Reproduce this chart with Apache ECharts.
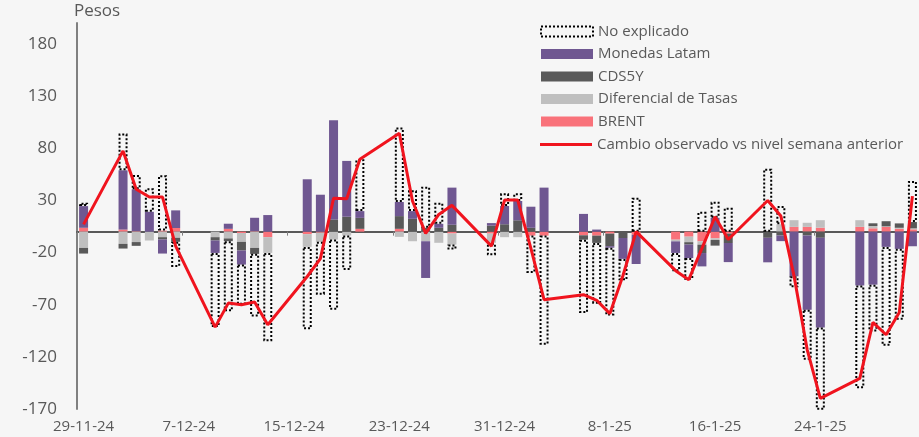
<!DOCTYPE html>
<html>
<head>
<meta charset="utf-8">
<script src="https://cdn.jsdelivr.net/npm/echarts@6/dist/echarts.min.js"></script>
<style>
html,body{margin:0;padding:0;background:#f6f6f6;}
#chart{width:919px;height:437px;}
</style>
</head>
<body>
<div id="chart"></div>
<script>
// All calendar days on the category axis
const categories = [
  '29-11-24','30-11-24',
  '1-12-24','2-12-24','3-12-24','4-12-24','5-12-24','6-12-24','7-12-24','8-12-24','9-12-24','10-12-24',
  '11-12-24','12-12-24','13-12-24','14-12-24','15-12-24','16-12-24','17-12-24','18-12-24','19-12-24','20-12-24',
  '21-12-24','22-12-24','23-12-24','24-12-24','25-12-24','26-12-24','27-12-24','28-12-24','29-12-24','30-12-24','31-12-24',
  '1-1-25','2-1-25','3-1-25','4-1-25','5-1-25','6-1-25','7-1-25','8-1-25','9-1-25','10-1-25',
  '11-1-25','12-1-25','13-1-25','14-1-25','15-1-25','16-1-25','17-1-25','18-1-25','19-1-25','20-1-25',
  '21-1-25','22-1-25','23-1-25','24-1-25','25-1-25','26-1-25','27-1-25','28-1-25','29-1-25','30-1-25','31-1-25'
];
// Days with data
const tradeDays = [
  '29-11-24',
  '2-12-24','3-12-24','4-12-24','5-12-24','6-12-24',
  '9-12-24','10-12-24','11-12-24','12-12-24','13-12-24',
  '16-12-24','17-12-24','18-12-24','19-12-24','20-12-24',
  '23-12-24','24-12-24','25-12-24','26-12-24','27-12-24',
  '30-12-24','31-12-24','1-1-25','2-1-25','3-1-25',
  '6-1-25','7-1-25','8-1-25','9-1-25','10-1-25',
  '13-1-25','14-1-25','15-1-25','16-1-25','17-1-25',
  '20-1-25','21-1-25','22-1-25','23-1-25','24-1-25',
  '27-1-25','28-1-25','29-1-25','30-1-25','31-1-25'
];
const brent = [3.7, 2,0.5,0,1,3.5, 0,2.7,-1.3,0.5,-5.3, -2.4,-1,0,0,2.7, 2.7,0,0,0,-1.8, -1.9,0,0,-3.8,-3.8, -3.5,-3.8,-1.9,0,-3, -7.7,-4.8,-9.3,-6.4,-1.9, 0,0,4.6,4.6,3.8, 4.6,3.2,4.6,2.7,2.2];
const difTasas = [-15.6, -11.7,-10,-8.5,-5.3,-5.9, -5.3,-6.5,-8.5,-15.6,-15.1, -12.2,-8.8,-7.6,-3.7,0, -5,-9.2,-9.2,-10.7,-10.6, -8.8,-5.3,-5.3,0,0, 0,0,0,0,0, -1.6,-5.3,-3.2,-1.6,0, 0,7,6.4,3.9,7.2, 6.4,2.2,0.5,1,1];
const cds5y = [-5.4, -4.5,-3.6,0,-2.2,-3.8, -3.2,-2.6,-8.3,-5.7,0, 0,0,11.7,14.3,10.5, 12.2,12.3,3.7,3.7,6.6, 5.8,7.1,10.9,3.7,0, -4.2,-7,-12,-6.1,0, 0,-2.3,-8,-5.4,-9, -5.9,-3.7,0,-3.7,-5.9, 0,2.6,4.9,4.2,6];
const monedas = [20.8, 56.8,40.1,19,-13.5,16.9, -11.9,4.9,-13.5,12.8,15.9, 50.2,35.4,95.2,53.5,6.5, 13.5,7.4,-35.2,3.8,35.6, 2.4,17.5,18.5,20.2,42.2, 17,2,-1.5,-20,-28, -11.1,-12.9,-12.8,13.3,-18.3, -23.5,-5.4,-42.8,-71.2,-85.9, -51.6,-50.8,-14.6,-16.5,-14];
const noExplicado = [3.3, 35.2,13.7,22.6,53,-24.1, -71.1,-67.3,-38.4,-60,-84.6, -78.9,-50.6,-67.3,-33,49.7, 71.5,19.9,39.4,20.2,-4.8, -11.9,12.1,7.3,-35.8,-104.7, -70.3,-58.2,-64.9,-20.6,32.4, -17.5,-20.7,19,15.4,22.9, 60.4,17.5,-10.6,-48,-79, -98.5,-44.9,-94.8,-68,39.4];
const cambio = [7, 77.4,40.6,33.2,33.2,-13.9, -91.5,-68.5,-70,-67.5,-89.3, -43,-25.8,31.9,31.5,69.4, 94.4,29.4,-1.7,16.5,25.2, -13.9,30.3,30.3,-16,-65.2, -60.4,-65.8,-78.6,-42,0, -37.4,-46,-16,14.3,-7.5, 29.9,15,-42.4,-113,-159.8, -140.6,-87,-98.8,-77.4,34.1];
const yTicks = [-170,-120,-70,-20,30,80,130,180];

function full(arr){
  return categories.map(c => { const i = tradeDays.indexOf(c); return i < 0 ? null : arr[i]; });
}

const FONT = 'Open Sans';
const TXT = '#595959';
const RED = '#f0141e';
const chart = echarts.init(document.getElementById('chart'), null, {renderer:'canvas'});

const barBase = {type:'bar', stack:'total', barWidth:9, xAxisIndex:0, yAxisIndex:0};
const legendText = {fontSize:15, color:TXT, fontFamily:FONT};

chart.setOption({
  backgroundColor:'#f6f6f6',
  animation:false,
  textStyle:{fontFamily:FONT},
  grid:{left:77, right:0, top:23, bottom:28, outerBoundsMode:'none'},
  legend:[
    {
      orient:'vertical', left:535, top:19, itemWidth:52, itemHeight:10, itemGap:7.5,
      textStyle:legendText,
      data:[
        {name:'No explicado', icon:'rect', itemStyle:{color:'transparent', borderColor:'#000', borderWidth:2, borderType:'dotted'}},
        {name:'Monedas Latam', icon:'rect'},
        {name:'CDS5Y', icon:'rect'},
        {name:'Diferencial de Tasas', icon:'rect'},
        {name:'BRENT', icon:'rect'}
      ]
    },
    {
      orient:'vertical', left:535, top:132, itemWidth:52, itemHeight:3,
      textStyle:legendText,
      data:[{name:'Cambio observado vs nivel semana anterior', icon:'rect', itemStyle:{color:RED}}]
    }
  ],
  xAxis:[
    {type:'category', data:categories, position:'bottom',
     axisLine:{show:true, onZero:true, lineStyle:{color:'#595959', width:2}},
     axisTick:{show:true, interval:7, length:4, lineStyle:{color:'#808080', width:1}},
     axisLabel:{show:false}, splitLine:{show:false}},
    {type:'category', data:categories, position:'bottom',
     axisLine:{show:false, onZero:false}, axisTick:{show:false},
     axisLabel:{show:true, interval:7, fontSize:15, color:TXT, margin:10, fontFamily:FONT},
     splitLine:{show:false}}
  ],
  yAxis:{
    type:'value', min:-170, max:200,
    name:'Pesos', nameLocation:'end', nameGap:3,
    nameTextStyle:{fontSize:17, color:TXT, align:'left', padding:[0,0,0,-3], fontFamily:FONT},
    axisLine:{show:true, lineStyle:{color:'#808080', width:2}},
    axisTick:{show:false},
    axisLabel:{customValues:yTicks, fontSize:17, color:TXT, margin:20, fontFamily:FONT},
    splitLine:{show:false}
  },
  series:[
    Object.assign({}, barBase, {name:'BRENT', data:full(brent), itemStyle:{color:'#f9727a'}}),
    Object.assign({}, barBase, {name:'Diferencial de Tasas', data:full(difTasas), itemStyle:{color:'#bfbfbf'}}),
    Object.assign({}, barBase, {name:'CDS5Y', data:full(cds5y), itemStyle:{color:'#595959'}}),
    Object.assign({}, barBase, {name:'Monedas Latam', data:full(monedas), itemStyle:{color:'#6f5791'}}),
    Object.assign({}, barBase, {name:'No explicado', data:full(noExplicado),
      itemStyle:{color:'transparent', borderColor:'#000', borderWidth:2, borderType:'dotted'}}),
    {type:'line', name:'Cambio observado vs nivel semana anterior', data:full(cambio),
     connectNulls:true, symbol:'none', showSymbol:false, z:5,
     lineStyle:{color:RED, width:3}, itemStyle:{color:RED}}
  ]
});
</script>
</body>
</html>
